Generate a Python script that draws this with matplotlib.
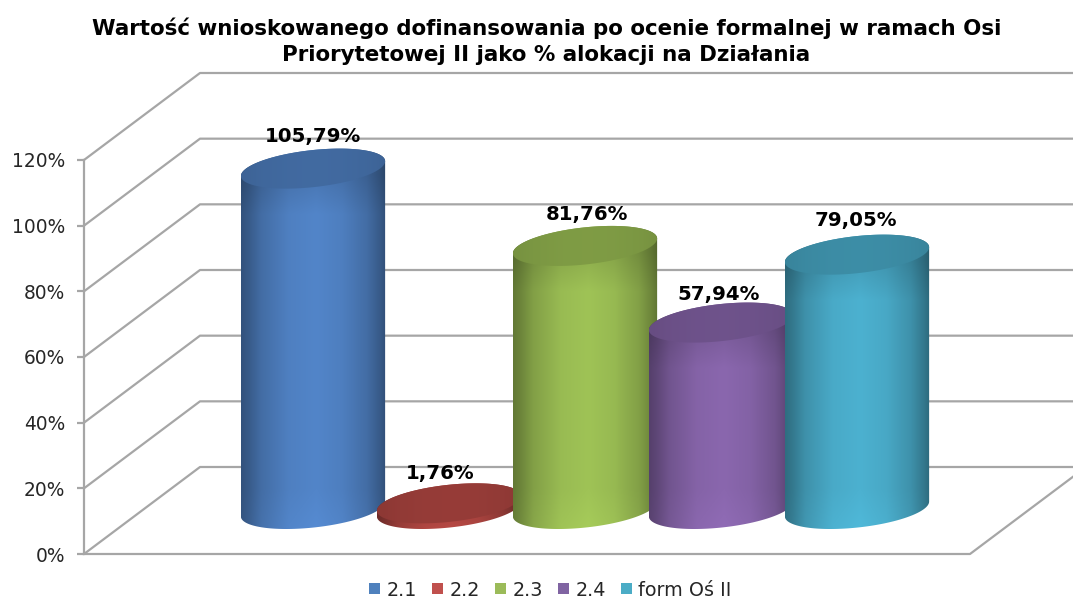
import numpy as np
import matplotlib
matplotlib.use("Agg")
import matplotlib.pyplot as plt
from matplotlib.patches import Polygon, Patch

# --- data ---
categories = ["2.1", "2.2", "2.3", "2.4", "form Oś II"]
values = [105.79, 1.76, 81.76, 57.94, 79.05]
value_labels = ["105,79%", "1,76%", "81,76%", "57,94%", "79,05%"]
ytick_values = [0, 20, 40, 60, 80, 100, 120]
ytick_labels = ["0%", "20%", "40%", "60%", "80%", "100%", "120%"]
title = ("Wartość wnioskowanego dofinansowania po ocenie formalnej w ramach Osi\n"
         "Priorytetowej II jako % alokacji na Działania")

# --- style ---
W, H = 1073, 599
mid_cols = ["#5285C9", "#BC4B46", "#9FC356", "#8A67AE", "#4CB1D0"]
legend_cols = ["#4F81BD", "#C0504D", "#9BBB59", "#8064A2", "#4BACC6"]
label_shift = [(0, 2), (-9, 0), (2, 2), (-2, -2), (-1, 4)]
GRID = "#A6A6A6"
TXT = "#262626"

plt.rcParams["font.family"] = ["DejaVu Sans"]
fig = plt.figure(figsize=(W / 100, H / 100), dpi=100, facecolor="white")

# axes = the front plane of the 3-D box
L, R, T, B = 84, 970, 160, 554
ax = fig.add_axes([L / W, 1 - B / H, (R - L) / W, (B - T) / H])
X0, DX_PX = 313, 136                     # first category centre, spacing (pixels)
ax.set_xlim((L - X0) / DX_PX, (R - X0) / DX_PX)
ax.set_ylim(0, 120)
PY = (B - T) / 120                       # pixels per percent
x_left, x_right = ax.get_xlim()
x_edge = (W + 5 - X0) / DX_PX

depth_x, depth_y = 116 / DX_PX, 87 / PY

# box: walls and floor
for v in ytick_values:
    ax.plot([x_left, x_left + depth_x, x_edge], [v, v + depth_y, v + depth_y],
            color=GRID, lw=1.6, clip_on=False, zorder=1, solid_capstyle="butt")
ax.plot([x_left, x_right, x_right + depth_x], [0, 0, depth_y],
        color=GRID, lw=1.6, clip_on=False, zorder=1)

for s in ("top", "right", "bottom"):
    ax.spines[s].set_visible(False)
ax.spines["left"].set_color(GRID)
ax.spines["left"].set_linewidth(1.6)
ax.set_xticks([])
ax.set_yticks(ytick_values)
ax.set_yticklabels(ytick_labels, fontsize=13.4, color=TXT)
ax.tick_params(axis="y", length=5, width=1.6, color=GRID, pad=8.5)

# cylinders
HW_A = 67 / DX_PX
B_X, B_Y = 26.7 / DX_PX, 20 / PY
FLOOR = (B - 509) / PY
H_SCALE = 0.98
T0 = np.arctan2(B_X, HW_A)
HW = np.hypot(HW_A, B_X)


def ell(cx, cy, t):
    return np.column_stack([cx + HW_A * np.cos(t) + B_X * np.sin(t), cy + B_Y * np.sin(t)])


def rgb(h):
    return np.array(matplotlib.colors.to_rgb(h))


U = [0, 0.05, 0.14, 0.33, 0.52, 0.7, 0.87, 0.96, 1]
S = [0.62, 0.68, 0.82, 0.96, 1.0, 0.95, 0.82, 0.68, 0.6]
u = np.linspace(0, 1, 200)
shade = np.interp(u, U, S)

for i, (val, col) in enumerate(zip(values, mid_cols)):
    cbase, ctop = FLOOR, FLOOR + val * H_SCALE
    c = rgb(col)
    t_up = np.linspace(T0, T0 + np.pi, 100)
    t_lo = np.linspace(T0 + np.pi, T0 + 2 * np.pi, 100)
    sil = np.vstack([ell(i, ctop, t_up), ell(i, cbase, t_lo)])
    clip = Polygon(sil, closed=True, transform=ax.transData, fc="none", ec="none")
    ax.add_patch(clip)
    clip.set_clip_on(False)
    # side: horizontal shading, darker band below the rim, slightly brighter foot
    y_hi, y_lo = ctop + 2 * B_Y, cbase - 2 * B_Y
    rows = np.linspace(y_hi, y_lo, 400)
    vert = np.interp(rows, [ctop - 14, ctop - 2, ctop + 2 * B_Y], [1.0, 0.88, 0.88])
    vert = vert * np.interp(rows, [cbase - 1.2 * B_Y, cbase + B_Y], [1.05, 1.0])
    img = np.clip(np.outer(vert, shade)[..., None] * c, 0, 1)
    z = 3 + i
    im = ax.imshow(img, extent=[i - HW, i + HW, y_lo, y_hi], aspect="auto",
                   interpolation="bilinear", zorder=z)
    im.set_clip_box(fig.bbox)
    im.set_clip_path(clip)
    # top face
    top_poly = Polygon(ell(i, ctop, np.linspace(0, 2 * np.pi, 200)), closed=True,
                       transform=ax.transData, fc="none", ec="none")
    ax.add_patch(top_poly)
    top_poly.set_clip_on(False)
    im2 = ax.imshow(np.clip((0.66 + 0.14 * shade)[None, :, None] * c, 0, 1),
                    extent=[i - HW, i + HW, ctop - B_Y * 1.2, ctop + B_Y * 1.2],
                    aspect="auto", interpolation="bilinear", zorder=z + 0.5)
    im2.set_clip_box(fig.bbox)
    im2.set_clip_path(top_poly)
    sx, sy = label_shift[i]
    ax.annotate(value_labels[i], (i, ctop), xytext=(sx * 0.72, 21.5 + sy * 0.72),
                textcoords="offset points",
                ha="center", va="center", fontsize=14.2, fontweight="bold",
                color="black", zorder=20, annotation_clip=False)

ax.set_xlim((L - X0) / DX_PX, (R - X0) / DX_PX)
ax.set_ylim(0, 120)

fig.text(546.5 / W, 1 - 41.5 / H, title, ha="center", va="center", fontsize=15.4,
         fontweight="bold", color="black", linespacing=1.38)

handles = [Patch(fc=c, ec="none", label=n) for c, n in zip(legend_cols, categories)]
fig.legend(handles=handles, loc="center", bbox_to_anchor=(550.5 / W, 1 - 590 / H), ncols=5,
           frameon=False, fontsize=13.8, handlelength=0.55, handleheight=0.55,
           handletextpad=0.35, columnspacing=0.8, labelcolor=TXT,
           borderpad=0, borderaxespad=0)

fig.savefig("out.png", dpi=100, facecolor="white")
